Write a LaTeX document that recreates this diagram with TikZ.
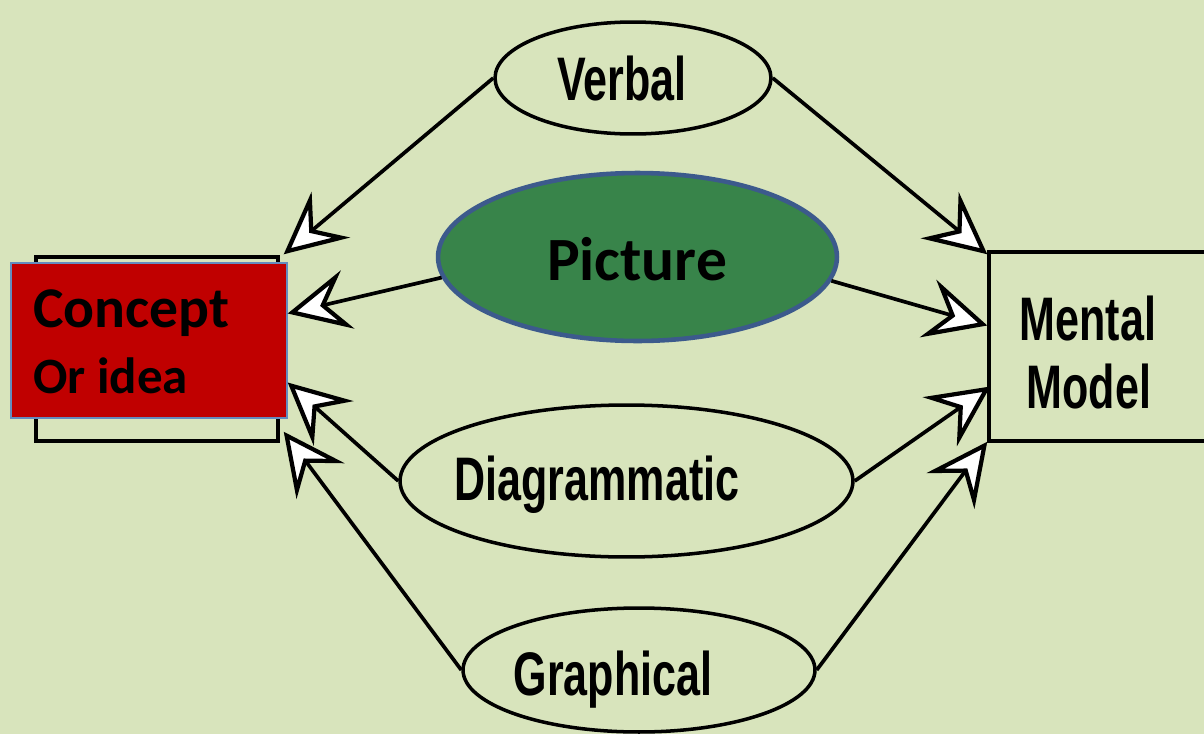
\documentclass[tikz,border=0pt]{standalone}
\usepackage{fontspec}
\usetikzlibrary{arrows.meta,shapes.geometric,calc}
\newfontfamily\narrowf{Liberation Sans}
\newfontfamily\calf{Carlito}
\definecolor{bg}{RGB}{216,228,188}
\definecolor{darkred}{RGB}{192,0,0}
\definecolor{picgreen}{RGB}{56,132,74}
\definecolor{picedge}{RGB}{60,90,140}
\definecolor{rededge}{RGB}{100,140,190}
\newcommand{\nar}[1]{\scalebox{0.7}[1]{#1}}
\tikzset{
  oval/.style={ellipse, draw=black, line width=2pt, inner sep=0pt},
  boxnode/.style={rectangle, draw=black, line width=2pt, inner sep=0pt},
  lbl/.style={anchor=base, inner sep=0pt, font=\narrowf\bfseries\fontsize{35}{40}\selectfont},
  callbl/.style={anchor=base, inner sep=0pt, font=\calf\bfseries\fontsize{35}{40}\selectfont},
  idealbl/.style={anchor=base west, inner sep=0pt},
  conn/.style={draw=black, line width=2.1pt, -{Stealth[length=35pt,width=34pt,inset=13pt,fill=white,line width=2.4pt]}}
}
\begin{document}
\begin{tikzpicture}[x=0.02cm,y=-0.02cm]
\fill[bg] (0,0) rectangle (1204,734);
\useasboundingbox (0,0) rectangle (1204,734);
\clip (0,0) rectangle (1204,734);

% left boxes
\node[boxnode, minimum width=4.84cm, minimum height=3.68cm] (concept) at (157,349) {};
\node[rectangle, draw=rededge, line width=0.8pt, fill=darkred, minimum width=5.52cm, minimum height=3.1cm,
      inner sep=0pt] (idea) at (149,340.5) {};
\node[idealbl, font=\calf\bfseries\fontsize{32.8}{36}\selectfont] (ideatxt1) at (33,327) {Concept};
\node[idealbl, font=\calf\bfseries\fontsize{29}{34}\selectfont] (ideatxt2) at (33,393) {Or idea};

% right box
\node[boxnode, fill=bg, minimum width=4.52cm, minimum height=3.78cm] (mental) at (1102,346.5) {};
\node[lbl] (mentaltxt) at (1088,340) {\nar{Mental}};
\node[lbl] (modeltxt) at (1089,408) {\nar{Model}};

% ellipses
\node[oval, minimum width=5.52cm, minimum height=2.24cm] (verbal) at (633,78) {};
\node[lbl] (verbaltxt) at (622,100) {\nar{Verbal}};

\node[ellipse, draw=picedge, fill=picgreen, line width=2.6pt, inner sep=0pt,
      minimum width=7.98cm, minimum height=3.36cm] (picture) at (637.5,257) {};
\node[callbl] (picturetxt) at (637,280) {Picture};

\node[oval, minimum width=9.06cm, minimum height=3.04cm] (diag) at (626.5,481) {};
\node[lbl] (diagtxt) at (597,500) {\nar{Diagrammatic}};

\node[oval, minimum width=7.04cm, minimum height=2.48cm] (graph) at (639,670) {};
\node[lbl] (graphtxt) at (613,695) {\nar{Graphical}};

% connectors
\draw[conn] (verbal.west) -- ($(concept.north east)+(4,-1)$);
\draw[conn] (picture.186) -- ($(idea.east)+(0,-27)$);
\draw[conn] (diag.west) -- ($(idea.east)+(0,42)$);
\draw[conn] (graph.west) -- ($(concept.south east)+(4,-11)$);

\draw[conn] (verbal.east) -- ($(mental.north west)+(0,4)$);
\draw[conn] (picture.-7) -- ($(mental.west)+(0,-21)$);
\draw[conn] (diag.east) -- ($(mental.west)+(3,40)$);
\draw[conn] (graph.east) -- ($(mental.south west)+(0,-1)$);
\end{tikzpicture}
\end{document}
